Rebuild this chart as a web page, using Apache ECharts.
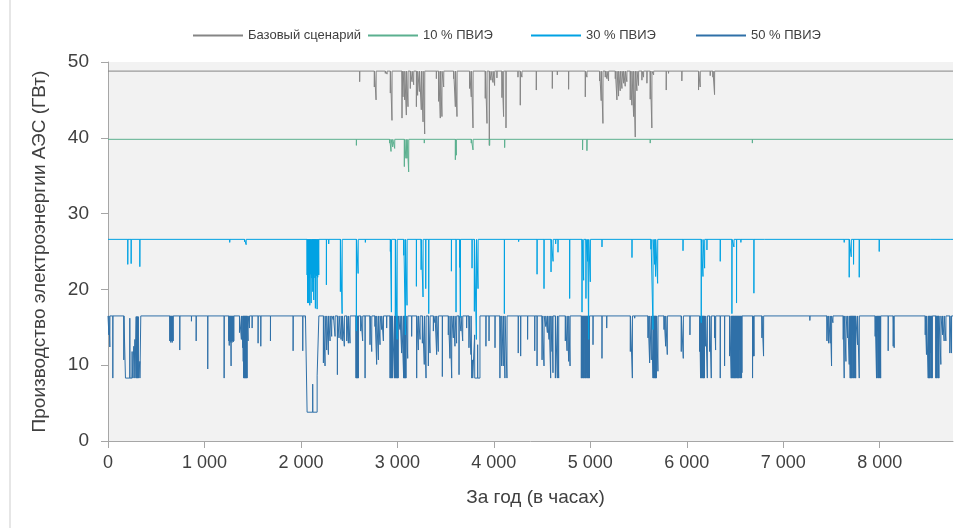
<!DOCTYPE html>
<html><head><meta charset="utf-8">
<script src="https://cdn.jsdelivr.net/npm/echarts@6/dist/echarts.min.js"></script>
<style>html,body{margin:0;padding:0;background:#fff}#c{width:979px;height:528px}</style>
</head><body><div id="c"></div>
<script>
const seriesNames = ['Базовый сценарий', '10 % ПВИЭ', '30 % ПВИЭ', '50 % ПВИЭ'];
const baselineLevels = [48.8, 39.8, 26.6, 16.5];
const hoursInYear = 8760;
const xTicks = [0, 1000, 2000, 3000, 4000, 5000, 6000, 7000, 8000];
const yTicks = [0, 10, 20, 30, 40, 50];

// [hour, value] or [hour, value, durationHours]; between entries the series sits at its baseline
const baseDips = [[2609,47.4],[2761,46.7],[2779,45.0],[2875,48.5],[2893,48.4],[2927,45.9],[2944,42.3],[3048,42.6],[3058,45.4],[3076,45.0],[3093,43.0],[3110,44.1],[3134,46.5],[3152,47.4],[3169,47.0],[3197,44.1],[3210,45.6],[3228,46.1],[3248,43.7],[3266,42.1],[3283,40.5],[3404,47.8],[3428,44.8],[3445,42.6],[3462,42.8],[3480,46.7],[3583,47.8],[3601,44.1],[3618,42.8],[3749,46.5],[3766,45.4],[3784,41.3],[3911,45.2],[3929,41.9],[3953,39.0],[3970,47.6],[3991,47.3],[4008,46.9],[4032,47.9],[4084,45.3],[4101,42.8],[4126,41.3],[4250,48.0],[4274,44.3],[4291,48.0],[4440,46.3],[4606,46.5],[4658,48.3],[4775,46.4],[4948,45.4],[4965,48.0],[5096,47.5],[5113,44.9],[5131,41.9],[5155,48.0],[5172,47.8],[5189,47.5],[5259,47.8],[5276,45.0],[5293,45.5],[5310,46.2],[5328,46.5],[5345,47.2],[5362,46.8],[5379,47.4],[5414,45.0],[5431,44.3],[5449,42.8],[5466,40.1],[5483,46.2],[5500,46.9],[5535,47.6],[5552,48.0],[5587,47.2],[5621,45.1],[5638,41.3],[5656,48.3],[5787,46.3],[5811,48.5],[5949,47.5],[6122,46.3],[6139,46.7],[6243,48.2],[6271,48.0],[6288,45.7]];

const res10Dips = [[2575,39.0],[2920,39.3],[2934,38.2],[2951,38.8],[2972,38.6],[3072,36.2],[3089,37.3],[3100,37.3],[3117,35.5],[3279,39.3],[3601,37.1],[3611,37.7],[3766,39.3],[3784,38.4],[3956,39.0],[4112,38.7],[4920,38.4],[4965,38.3],[5621,39.3],[6680,39.3]];

const res30Dips = [[205,23.3],[240,23.4],[330,23.0],[1262,26.2],[1415,26.3],[1432,25.9],
[2064,21.9],[2070,18.2],[2076,22.0],[2081,18.2],[2087,21.5],[2092,17.9],[2098,22.0],[2106,18.2],[2112,21.5],[2118,22.0],[2123,19.7],[2128,21.0],[2133,18.6],[2139,22.0],[2145,21.5],[2150,17.5],[2156,22.0],[2162,21.8],[2168,17.4],[2174,21.6],[2180,22.0],[2185,21.9],
[2264,20.6],[2288,26.0],[2409,19.7],[2427,16.8],[2575,14.5],[2593,22.1],[2668,26.2],
[2927,25.0],[2938,17.0],[2979,16.5],[2997,13.4],[3066,24.5],[3083,14.0],[3100,17.9],[3197,20.4],[3246,22.6],[3266,19.0],[3294,20.1],[3325,16.8],
[3560,22.4],[3608,17.0],[3646,22.9],[3653,16.3],[3774,22.8],[3798,17.1],[3819,13.4],[3836,20.1],[4109,16.8],[4257,26.3],
[4448,22.0],[4520,20.1],[4593,22.3],[4614,23.7],[4641,26.0],[4665,24.9],[4786,18.8],
[4914,17.0],[4931,21.2],[4955,18.8],[4972,23.7],[4983,13.4],[5000,21.0],[5121,25.6],
[5432,24.2],[5629,25.3],[5650,14.7],[5667,23.3],[5677,21.7],[5698,20.8],[5961,25.1],
[6150,15.6],[6168,21.7],[6185,22.8],[6209,25.2],[6347,23.7],[6468,16.8],[6489,25.6],[6516,18.2],[6561,26.2],[6696,19.5],[6803,26.5],
[7632,26.2],[7684,21.6],[7705,24.3],[7729,23.3],[7788,21.6],[7995,25.0],[8523,26.4],[8738,26.4]];

const res50Dips = [[9,14.0],[19,12.4],[50,8.3],[164,10.7],
[181,8.3,45],[226,16.2],[227,8.3,23],[250,11.8],[251,8.3,17],[268,12.5],[269,8.3,10],[279,13.4],[280,8.3,12],[292,16.4],[294,8.3,3],[297,16.4],[299,8.3,3],[302,16.4],[304,8.3,4],[308,16.4],[310,8.3,4],[314,16.4],[316,8.3,14],[330,10.5],[331,8.3,9],
[641,13.2],[646,13.2],[651,13.0],[656,13.2],[661,13.2],[666,13.0],[671,13.2],[675,13.2],
[744,12.0],[865,15.8],[914,13.2],[1034,9.5],[1204,8.3],
[1252,13.2],[1257,12.6],[1262,13.2],[1267,13.0],[1272,13.2],[1276,9.9],[1281,13.2],[1286,13.0],[1291,13.2],[1296,13.2],[1301,13.1],[1304,13.2],
[1363,14.3],[1383,13.4],[1397,12.3],[1402,10.5],[1407,8.3],[1412,8.3],[1417,8.3],[1422,8.3],[1427,8.3],[1432,8.3],[1437,8.3],[1442,8.3],[1452,13.2],[1466,14.9],[1494,14.9],[1556,12.9],[1584,12.5],[1684,13.2],[1919,11.9],[2019,11.9],[2046,16.2],
[2064,3.8,58],[2122,7.5],[2123,3.8,45],[2168,8.6,18],
[2233,10.3],[2250,9.9],[2267,12.0],[2285,11.4],[2302,13.2],[2319,13.8],[2336,16.0],[2354,13.8],[2378,8.75],[2395,13.6],[2416,13.4],[2430,13.2],[2450,12.5],[2475,13.2],[2492,12.9],[2509,12.9],
[2571,8.3],[2576,8.3],[2581,8.3],[2586,8.3],[2591,8.3],[2595,8.3],
[2620,14.5],[2640,13.2],[2665,8.3],[2716,12.7],[2734,11.8],[2768,15.1],[2785,10.1],[2803,10.7],[2820,12.7],[2837,14.7],[2855,13.2],[2889,14.9],
[2924,8.3],[2929,8.3],[2934,10.3],[2939,8.3],[2944,8.3],[2948,8.3],
[2969,8.3],[2974,8.3],[2979,8.3],[2982,11.8],[2987,8.3],[2993,8.3],[2998,8.3],[3003,8.3],[3008,8.3],
[3027,14.7],[3044,11.6],
[3065,8.3],[3070,8.3],[3075,8.3],[3080,8.3],[3085,8.3],[3089,8.3],
[3107,10.9],[3148,13.8],[3200,8.3],[3217,12.0],[3235,13.4],[3259,12.9],[3279,10.1],[3297,8.3],[3321,9.9],[3338,11.6],[3373,14.5],[3390,15.6],[3407,11.4],[3424,11.8],[3466,8.5],[3528,14.0],[3545,10.9],[3563,8.3],[3580,13.6],[3597,12.5],[3614,12.9],[3639,8.75],[3659,14.5],[3677,13.2],[3718,14.9],[3742,12.3],[3763,11.4],
[3770,8.3,10],[3780,10.7],[3781,8.3,20],[3801,14.0],[3802,8.3,30],[3832,12.7],[3833,8.3,23],
[3918,12.5],[3950,13.2],[4012,12.3],[4063,8.3],[4081,9.9],[4098,9.9],[4115,8.3],[4136,8.3],[4253,11.6],[4278,11.2],[4350,13.4],
[4424,11.9],[4448,9.9],[4500,10.7],[4520,9.9],[4538,15.1],[4555,14.3],[4572,13.4],[4589,8.3],[4603,11.8],[4613,9.0],[4638,8.3],[4658,8.3],[4672,8.3],[4741,13.2],[4759,11.9],[4776,10.5],[4790,9.9],
[4907,8.3],[4912,8.3],[4917,8.3],[4922,9.5],[4927,8.3],[4932,8.3],[4937,8.3],[4942,13.6],[4947,8.3],[4952,8.3],[4957,8.3],[4962,9.0],[4967,8.3],[4972,8.3],[4976,11.8],[4981,8.3],[4986,8.3],[4991,8.3],
[5028,12.7],[5121,10.9],[5170,14.9],[5415,11.8],[5436,8.3],[5460,16.2],[5598,13.6],[5615,10.3],[5632,10.7],
[5650,8.3],[5655,8.3],[5660,12.0],[5665,8.3],[5670,8.3],[5675,8.3],[5680,8.3],[5684,8.3],
[5701,9.2],[5764,14.7],[5781,12.5],[5798,11.4],[5943,11.8],[5964,10.9],[6033,14.0],[6133,11.8],
[6143,8.3],[6148,8.3],[6153,8.3],[6158,13.0],[6163,8.3],[6168,8.3],[6173,8.3],[6178,8.3],[6183,8.3],
[6195,12.5],[6213,8.3],[6237,11.8],[6254,8.3],[6289,13.6],[6299,12.0],[6347,8.3],[6392,9.9],[6444,11.2],
[6461,8.3],[6466,8.3],[6471,8.3],[6476,8.3],[6479,10.0],[6484,8.3],[6489,8.3],[6494,8.3],[6499,8.3],[6504,8.3],[6509,8.3],[6513,14.9],[6518,8.3],[6523,8.3],[6528,8.3],[6533,8.3],[6538,8.3],[6543,8.3],[6548,12.0],[6553,8.3],[6558,8.3],[6563,8.5],[6568,8.3],[6572,9.0],
[6682,8.3],[6687,11.2],[6692,11.2],[6697,11.2],
[6779,13.6],[6796,11.2],[7276,15.9],[7453,13.2],[7470,12.9],[7487,12.9],[7501,9.9],[7515,15.6],[7622,13.4],[7632,8.3],[7650,10.5],[7667,13.6],[7684,10.1],
[7694,8.3],[7699,8.3],[7704,8.3],[7709,8.3],[7714,8.3],[7719,14.0],[7724,8.3],[7729,8.3],[7736,12.0],[7741,8.3],[7746,8.3],[7751,8.3],
[7770,12.7],[7788,8.3],[7953,13.8],
[7967,8.3],[7972,8.3],[7978,14.5],[7983,8.3],[7988,8.3],[7995,13.0],[8000,8.3],[8005,8.3],[8010,8.3],
[8088,11.9],[8140,12.5],[8150,12.3],[8472,14.0],[8485,11.4],
[8503,8.3],[8508,8.3],[8513,8.3],[8518,8.3],[8523,8.3],[8530,11.6],[8535,8.3],[8540,8.3],[8545,8.3],
[8582,8.3],[8587,8.3],[8592,8.3],[8599,13.6],[8604,8.3],[8609,8.3],[8614,8.3],
[8634,10.1],[8651,14.0],[8668,13.2],[8686,13.2],[8727,11.6],[8744,11.6]];

const colors = ['#858585', '#5bb08f', '#00a2e3', '#2f70a8'];

// Run-length hourly profile -> change points for a step line
function buildProfile(base, dips) {
  const pts = [[0, base]];
  for (let i = 0; i < dips.length; i++) {
    const h = dips[i][0], v = dips[i][1], n = dips[i][2] || 1;
    pts.push([h, v]);
    const end = h + n;
    const next = dips[i + 1];
    if (!next || next[0] > end) pts.push([end, base]);
  }
  pts.push([hoursInYear, base]);
  return pts;
}

const dipSets = [baseDips, res10Dips, res30Dips, res50Dips];
const font = 'Liberation Sans, Arial, sans-serif';
const fmtThousands = v => String(v).replace(/\B(?=(\d{3})+(?!\d))/g, ' ');

const order = [0, 1, 3, 2]; // draw 30 % on top of 50 %
const series = order.map(i => ({
  name: seriesNames[i], type: 'line', step: 'end', showSymbol: false, animation: false,
  data: buildProfile(baselineLevels[i], dipSets[i]),
  lineStyle: { color: colors[i], width: 1 }, itemStyle: { color: colors[i] }
}));

const legendLefts = [188, 363, 526, 691];
const legends = seriesNames.map((n, i) => ({
  data: [n], left: legendLefts[i], top: 24, icon: 'rect', itemWidth: 50, itemHeight: 2,
  selectedMode: false, textStyle: { fontFamily: font, fontSize: 13, color: '#404040', padding: [0, 0, 4, 0] }
}));

const chart = echarts.init(document.getElementById('c'), null, { renderer: 'canvas' });
chart.setOption({
  animation: false,
  backgroundColor: '#ffffff',
  graphic: [{ type: 'rect', left: 9, top: 0, shape: { width: 2, height: 528 }, style: { fill: '#e6e6e6' }, silent: true }],
  legend: legends,
  grid: { left: 108, right: 26, top: 62, bottom: 87, show: true, backgroundColor: '#f2f2f2', borderWidth: 0 },
  xAxis: {
    type: 'value', min: 0, max: hoursInYear,
    name: 'За год (в часах)', nameLocation: 'middle', nameGap: 47,
    nameTextStyle: { fontFamily: font, fontSize: 19, color: '#404040', padding: [0, 0, 0, 10] },
    axisLine: { show: true, lineStyle: { color: '#a6a6a6', width: 1 } },
    axisTick: { show: true, length: 7, lineStyle: { color: '#a6a6a6' }, customValues: xTicks },
    axisLabel: { customValues: xTicks, formatter: v => fmtThousands(v), fontFamily: font, fontSize: 18, color: '#404040', margin: 13 },
    splitLine: { show: false }
  },
  yAxis: {
    type: 'value', min: 0, max: 50, interval: 10,
    name: 'Производство электроэнергии АЭС (ГВт)', nameLocation: 'middle', nameGap: 59,
    nameTextStyle: { fontFamily: font, fontSize: 19, color: '#404040' },
    axisLine: { show: true, lineStyle: { color: '#a6a6a6', width: 1 } },
    axisTick: { show: true, length: 7, lineStyle: { color: '#a6a6a6' }, customValues: yTicks },
    axisLabel: { customValues: yTicks, fontFamily: font, fontSize: 19, color: '#404040', margin: 19 },
    splitLine: { show: false }
  },
  series: series
});
</script></body></html>
